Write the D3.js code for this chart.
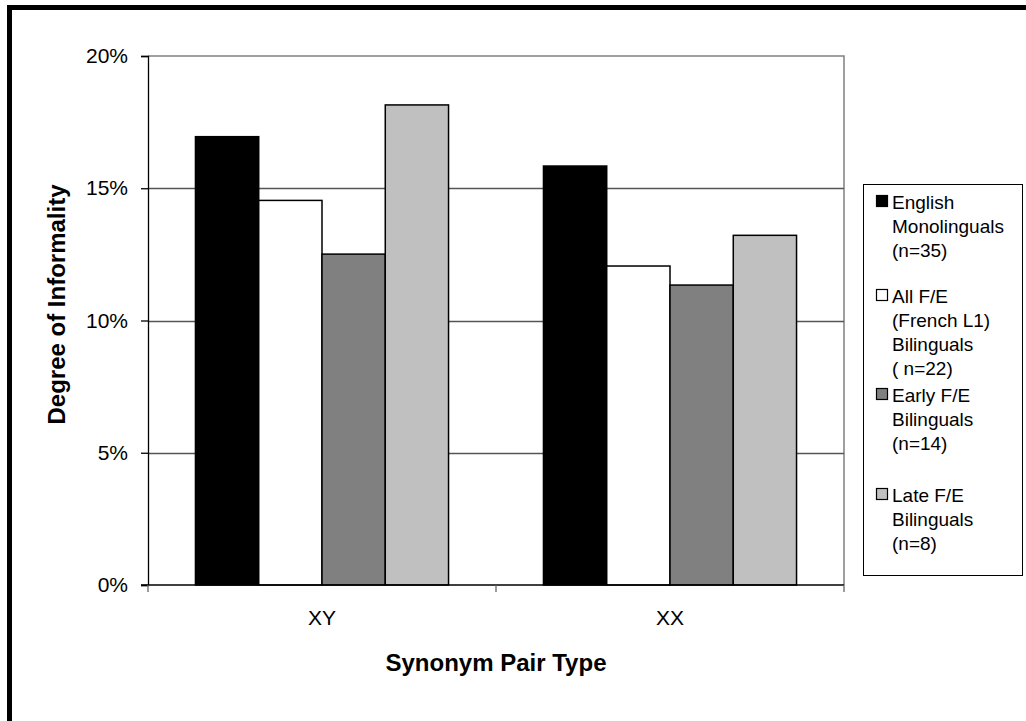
<!DOCTYPE html>
<html>
<head>
<meta charset="utf-8">
<script src="https://cdn.jsdelivr.net/npm/d3@7"></script>
<style>
  html, body { margin: 0; padding: 0; background: #fff; }
  svg { display: block; font-family: "Liberation Sans", Arial, sans-serif; }
</style>
</head>
<body>
<svg id="chart" width="1026" height="721"></svg>
<script>
// Synonym pair types on the x axis
const categories = ["XY", "XX"];
// Participant groups (one bar each per category)
const groups = ["English Monolinguals (n=35)", "All F/E (French L1) Bilinguals ( n=22)", "Early F/E Bilinguals (n=14)", "Late F/E Bilinguals (n=8)"];
// Legend text, broken into lines as displayed
const legendLines = [
  ["English", "Monolinguals", "(n=35)"],
  ["All F/E", "(French L1)", "Bilinguals", "( n=22)"],
  ["Early F/E", "Bilinguals", "(n=14)"],
  ["Late F/E", "Bilinguals", "(n=8)"]
];
// Degree of informality (%) per group, for XY and XX
const englishMono = [16.95, 15.84];
const allBilingual = [14.54, 12.06];
const earlyBilingual = [12.51, 11.34];
const lateBilingual = [18.15, 13.22];
const yTicks = [0, 5, 10, 15, 20];

const seriesValues = [englishMono, allBilingual, earlyBilingual, lateBilingual];
const fills = ["#000000", "#ffffff", "#808080", "#c0c0c0"];

const svg = d3.select("#chart");

// outer frame
svg.append("rect")
  .attr("x", 9.5).attr("y", 7.5)
  .attr("width", 1040).attr("height", 740)
  .attr("fill", "none").attr("stroke", "#000").attr("stroke-width", 5);

const plot = { left: 148, right: 844, top: 56, bottom: 585 };

const x0 = d3.scaleBand().domain(categories).range([plot.left, plot.right]).paddingInner(0).paddingOuter(0);
const x1 = d3.scaleBand().domain(groups).range([0, x0.bandwidth()]).paddingInner(0).paddingOuter(0.75);
const y = d3.scaleLinear().domain([0, 20]).range([plot.bottom, plot.top]);

// plot area outline (top and right)
svg.append("path")
  .attr("d", `M${plot.left},${plot.top}H${plot.right}V${plot.bottom}`)
  .attr("fill", "none").attr("stroke", "#808080").attr("stroke-width", 1.5);

// horizontal gridlines
svg.append("g")
  .selectAll("line")
  .data(yTicks.filter(t => t > 0 && t < 20))
  .join("line")
  .attr("x1", plot.left).attr("x2", plot.right)
  .attr("y1", d => Math.round(y(d)) + 0.5).attr("y2", d => Math.round(y(d)) + 0.5)
  .attr("stroke", "#555").attr("stroke-width", 1.3);

// bars
const rows = categories.map((c, i) => ({ cat: c, vals: groups.map((g, j) => ({ g, j, v: seriesValues[j][i] })) }));
svg.append("g")
  .selectAll("g")
  .data(rows)
  .join("g")
  .attr("transform", d => `translate(${x0(d.cat)},0)`)
  .selectAll("rect")
  .data(d => d.vals)
  .join("rect")
  .attr("x", d => x1(d.g))
  .attr("y", d => y(d.v))
  .attr("width", x1.bandwidth())
  .attr("height", d => y(0) - y(d.v))
  .attr("fill", d => fills[d.j])
  .attr("stroke", "#000").attr("stroke-width", 1.5);

// y axis
const yAxis = d3.axisLeft(y).tickValues(yTicks).tickFormat(d => d + "%").tickSize(7).tickPadding(13);
const gy = svg.append("g").attr("transform", `translate(${plot.left},0)`).call(yAxis);
gy.select(".domain").attr("stroke", "#000").attr("stroke-width", 1.3);
gy.selectAll(".tick line").attr("stroke", "#000").attr("stroke-width", 1.3);
gy.selectAll(".tick text")
  .attr("font-family", "Liberation Sans, Arial, sans-serif")
  .attr("font-size", 21).attr("fill", "#000");

// x axis: boundary ticks between categories
const xAxisG = svg.append("g").attr("transform", `translate(0,${plot.bottom})`);
xAxisG.append("line")
  .attr("x1", plot.left - 7).attr("x2", plot.right)
  .attr("stroke", "#000").attr("stroke-width", 1.5);
xAxisG.selectAll("line.tk")
  .data(categories.map(c => x0(c)).concat([plot.right]))
  .join("line").attr("class", "tk")
  .attr("x1", d => d).attr("x2", d => d)
  .attr("y1", 0).attr("y2", 7)
  .attr("stroke", "#666").attr("stroke-width", 1.3);
xAxisG.selectAll("text")
  .data(categories)
  .join("text")
  .attr("x", d => x0(d) + x0.bandwidth() / 2)
  .attr("y", 40)
  .attr("text-anchor", "middle")
  .attr("font-size", 21).attr("fill", "#000")
  .text(d => d);

// axis titles
svg.append("text")
  .attr("x", (plot.left + plot.right) / 2).attr("y", 671)
  .attr("text-anchor", "middle")
  .attr("font-size", 24).attr("font-weight", "bold")
  .text("Synonym Pair Type");

svg.append("text")
  .attr("transform", `translate(65,${(plot.top + plot.bottom) / 2 - 16}) rotate(-90)`)
  .attr("text-anchor", "middle")
  .attr("font-size", 24).attr("font-weight", "bold")
  .text("Degree of Informality");

// legend
const legend = svg.append("g");
legend.append("rect")
  .attr("x", 863.5).attr("y", 184.5)
  .attr("width", 159).attr("height", 391)
  .attr("fill", "#fff").attr("stroke", "#000").attr("stroke-width", 1);

const entryTops = [202, 296, 395, 495];
const lineGap = 24;
groups.forEach((g, j) => {
  const cy = entryTops[j];
  legend.append("rect")
    .attr("x", 876.5).attr("y", cy - 6.5)
    .attr("width", 11).attr("height", 11)
    .attr("fill", fills[j]).attr("stroke", "#000").attr("stroke-width", 1.2);
  legend.append("text")
    .attr("x", 892).attr("y", cy)
    .attr("font-size", 19).attr("fill", "#000")
    .selectAll("tspan")
    .data(legendLines[j])
    .join("tspan")
    .attr("x", 892)
    .attr("y", (d, k) => cy + k * lineGap)
    .attr("dy", "0.35em")
    .text(d => d);
});
</script>
</body>
</html>
